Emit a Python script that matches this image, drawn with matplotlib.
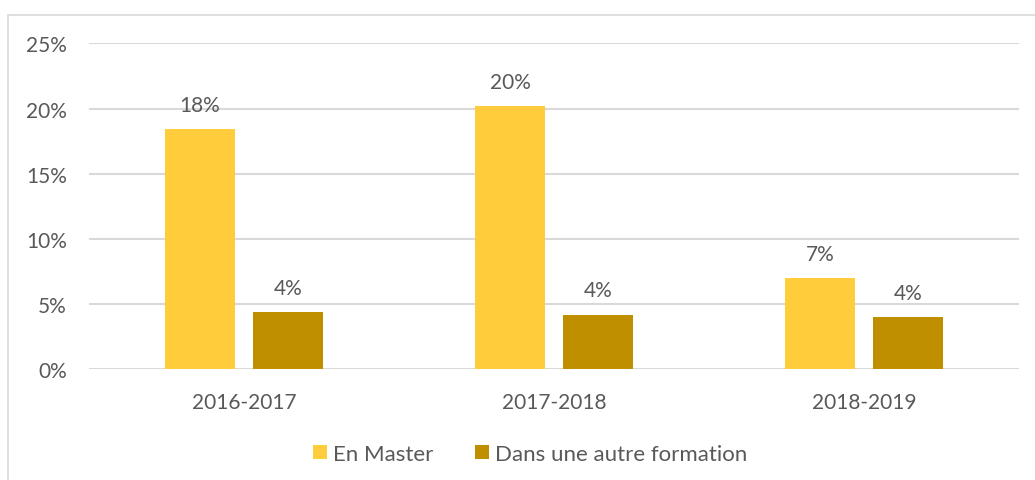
import matplotlib.pyplot as plt
import numpy as np
from matplotlib.patches import Rectangle

plt.rcParams['font.family'] = ['Lato', 'DejaVu Sans']

years = ['2016-2017', '2017-2018', '2018-2019']
en_master = [18.4, 20.2, 7.0]
autre_formation = [4.4, 4.2, 4.0]
labels_master = ['18%', '20%', '7%']
labels_autre = ['4%', '4%', '4%']

yellow = '#FFCD3C'
gold = '#BF8F00'
txt = '#595959'
grid = '#D9D9D9'

fig = plt.figure(figsize=(10.35, 4.81), dpi=100)
ax = fig.add_axes([89 / 1035, 1 - 370.3 / 481, 930 / 1035, 325.9 / 481])

# Excel-like chart frame (left and top only visible)
fig.patches.append(Rectangle((8 / 1035, -0.1), 1.2, 1 - 15.5 / 481 + 0.1,
                             transform=fig.transFigure, fill=False,
                             edgecolor='#D9D9D9', linewidth=1.2))

x = np.arange(len(years))
w = 0.2236
off = 0.1418
b1 = ax.bar(x - off, en_master, w, color=yellow, label='En Master', zorder=3)
b2 = ax.bar(x + off, autre_formation, w, color=gold, label='Dans une autre formation', zorder=3)

for bars, labs in [(b1, labels_master), (b2, labels_autre)]:
    for rect, lab in zip(bars, labs):
        ax.annotate(lab, (rect.get_x() + rect.get_width() / 2, rect.get_height()),
                    xytext=(0, 13), textcoords='offset points',
                    ha='center', va='baseline', fontsize=15, color=txt)

ax.set_xlim(-0.5, 2.5)
ax.set_ylim(0, 25)
ax.set_yticks([0, 5, 10, 15, 20, 25])
ax.set_yticklabels([f'{v}%' for v in [0, 5, 10, 15, 20, 25]])
ax.set_xticks(x)
ax.set_xticklabels(years)
ax.tick_params(axis='both', length=0, labelsize=15, labelcolor=txt)
ax.tick_params(axis='y', pad=16)
ax.tick_params(axis='x', pad=16)
ax.yaxis.grid(True, color=grid, linewidth=1.5, zorder=0)
for s in ax.spines.values():
    s.set_visible(False)

leg = fig.legend(loc='center', bbox_to_anchor=(530 / 1035, 1 - 455 / 481), ncol=2,
                 frameon=False, fontsize=16, handlelength=0.63, handleheight=0.63,
                 handletextpad=0.27, columnspacing=1.85)
for t in leg.get_texts():
    t.set_color(txt)

fig.savefig('out.png', dpi=100)
